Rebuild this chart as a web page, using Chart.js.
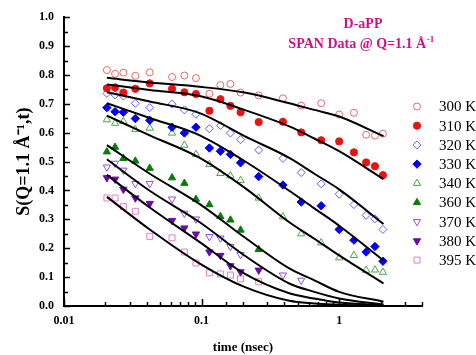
<!DOCTYPE html>
<html><head><meta charset="utf-8">
<script src="https://cdn.jsdelivr.net/npm/chart.js@4"></script>
<style>html,body{margin:0;padding:0;background:#fff;}#wrap{width:476px;height:355px;}</style>
</head><body><div id="wrap"><canvas id="c" width="476" height="355"></canvas></div>
<script>
// ---- data ----
const times = [0.0205, 0.0235, 0.027, 0.033, 0.042, 0.061, 0.075, 0.091, 0.114, 0.137, 0.162, 0.192, 0.26, 0.39, 0.53, 0.74, 1.0, 1.28, 1.57, 1.82, 2.08];
const s300 = [0.817, 0.804, 0.808, 0.797, 0.809, 0.793, 0.798, 0.789, 0.735, 0.765, 0.769, 0.739, 0.729, 0.719, 0.694, 0.702, 0.663, 0.669, 0.593, 0.590, 0.597];
const s310 = [0.754, 0.757, 0.739, 0.752, 0.771, 0.752, 0.740, 0.734, 0.676, 0.716, 0.693, 0.671, 0.637, 0.638, 0.601, 0.574, 0.570, 0.532, 0.497, 0.484, 0.453];
const s320 = [0.736, 0.731, 0.727, 0.702, 0.687, 0.699, 0.679, 0.664, 0.614, 0.625, 0.599, 0.576, 0.540, 0.511, 0.462, 0.423, 0.387, 0.351, 0.314, 0.302, 0.265];
const s330 = [0.687, 0.673, 0.671, 0.649, 0.643, 0.619, 0.599, 0.619, 0.547, 0.536, 0.525, 0.496, 0.448, 0.419, 0.360, 0.347, 0.265, 0.228, 0.187, 0.206, 0.155];
const s340 = [0.645, 0.633, 0.639, 0.611, 0.616, 0.599, 0.557, 0.525, 0.490, 0.459, 0.451, 0.435, 0.374, 0.309, 0.250, 0.219, 0.167, 0.175, 0.124, 0.125, 0.117];
const s360 = [0.534, 0.550, 0.511, 0.502, 0.477, 0.444, 0.425, 0.370, 0.351, 0.310, 0.298, 0.263, 0.196, null, null, null, null, null, null, null, null];
const s370 = [0.481, 0.494, 0.470, 0.424, 0.424, 0.370, 0.321, 0.301, 0.240, 0.235, 0.206, 0.178, null, 0.107, 0.089, null, null, null, null, null, null];
const s380 = [0.444, 0.439, 0.404, 0.374, 0.355, 0.296, 0.270, 0.249, 0.187, 0.175, 0.139, 0.118, 0.124, null, null, null, null, null, null, null, null];
const s395 = [0.374, 0.374, 0.344, 0.328, 0.241, 0.236, 0.187, 0.149, 0.115, 0.111, 0.107, 0.094, 0.084, null, null, null, null, null, null, null, null];

// fitted curves
const fitTimes = [0.0205, 0.042, 0.097, 0.205, 0.434, 0.66, 1.0, 2.1];
const fit300 = [0.790, 0.774, 0.759, 0.739, 0.702, 0.679, 0.656, 0.588];
const fit310 = [0.767, 0.748, 0.727, 0.679, 0.622, 0.580, 0.536, 0.439];
const fit320 = [0.740, 0.708, 0.668, 0.588, 0.513, 0.458, 0.404, 0.284];
const fit330 = [0.702, 0.651, 0.591, 0.502, 0.399, 0.338, 0.278, 0.158];
const fit340 = [0.659, 0.591, 0.513, 0.410, 0.290, 0.233, 0.175, 0.078];
const fit360 = [0.557, 0.458, 0.353, 0.238, 0.130, 0.089, 0.049, 0.015];
const fit370 = [0.508, 0.399, 0.290, 0.175, 0.078, 0.049, 0.026, 0.005];
const fit380 = [0.454, 0.341, 0.221, 0.112, 0.044, 0.026, 0.012, 0.002];
const fit395 = [0.378, 0.265, 0.147, 0.066, 0.018, 0.009, 0.004, 0.001];

const seriesLabels = ['300 K', '310 K', '320 K', '330 K', '340 K', '360 K', '370 K', '380 K', '395 K'];
const yTickValues = [0.0, 0.1, 0.2, 0.3, 0.4, 0.5, 0.6, 0.7, 0.8, 0.9, 1.0];
const xTickLabels = ['0.01', '0.1', '1'];

// ---- styles ----
const FONT = "'Liberation Serif', 'Times New Roman', serif";
const styles = [
  {color: '#e06a6a', style: 'circle',   rot: 0,   r: 3.5, filled: false},
  {color: '#ee1111', style: 'circle',   rot: 0,   r: 3.6, filled: true},
  {color: '#6060f0', style: 'rectRot',  rot: 0,   r: 4.0, filled: false},
  {color: '#0000ff', style: 'rectRot',  rot: 0,   r: 4.2, filled: true},
  {color: '#4ca44c', style: 'triangle', rot: 0,   r: 4.2, filled: false},
  {color: '#0a7a0a', style: 'triangle', rot: 0,   r: 4.2, filled: true},
  {color: '#9050d8', style: 'triangle', rot: 180, r: 4.2, filled: false},
  {color: '#6a0aaa', style: 'triangle', rot: 180, r: 4.2, filled: true},
  {color: '#e080c8', style: 'rect',     rot: 0,   r: 4.2, filled: false}
];
const seriesValues = [s300, s310, s320, s330, s340, s360, s370, s380, s395];
const fitValues = [fit300, fit310, fit320, fit330, fit340, fit360, fit370, fit380, fit395];

const datasets = [];
seriesValues.forEach((vals, k) => {
  const st = styles[k];
  datasets.push({
    label: seriesLabels[k],
    data: times.map((t, i) => ({x: t, y: vals[i]})).filter(p => p.y !== null),
    showLine: false,
    pointStyle: st.style,
    pointRotation: st.rot,
    pointRadius: st.r,
    pointHoverRadius: st.r,
    pointBorderWidth: 1,
    borderColor: st.color,
    backgroundColor: st.filled ? st.color : 'rgba(255,255,255,0)',
    order: 2
  });
});
fitValues.forEach((vals) => {
  datasets.push({
    label: '',
    data: fitTimes.map((t, i) => ({x: t, y: vals[i]})),
    showLine: true,
    borderColor: '#000',
    borderWidth: 2,
    pointRadius: 0,
    cubicInterpolationMode: 'monotone',
    fill: false,
    order: 1
  });
});

function isPow10(v) { const l = Math.log10(v); return Math.abs(l - Math.round(l)) < 1e-6; }
function isTenth(v) { return Math.abs(v * 10 - Math.round(v * 10)) < 1e-6; }

const inwardTicks = {
  id: 'inwardTicks',
  afterDraw(chart) {
    const {ctx, chartArea: a, scales: {x, y}} = chart;
    ctx.save();
    ctx.strokeStyle = '#000';
    ctx.lineWidth = 1.5;
    x.ticks.forEach(t => {
      if (t.value < x.min - 1e-9 || t.value > x.max + 1e-9) return;
      const px = Math.round(x.getPixelForValue(t.value)) + 0.5;
      const len = isPow10(t.value) ? 7 : 4;
      ctx.beginPath(); ctx.moveTo(px, a.bottom); ctx.lineTo(px, a.bottom - len); ctx.stroke();
    });
    y.ticks.forEach(t => {
      const py = Math.round(y.getPixelForValue(t.value)) + 0.5;
      const len = isTenth(t.value) ? 6 : 4;
      ctx.beginPath(); ctx.moveTo(a.left, py); ctx.lineTo(a.left + len, py); ctx.stroke();
    });
    ctx.restore();
  }
};

const sideLegend = {
  id: 'sideLegend',
  afterDraw(chart) {
    const ctx = chart.ctx;
    const items = chart.data.datasets.filter(d => d.label);
    items.forEach((d, i) => {
      const yy = 106.5 + i * 19.2;
      ctx.save();
      ctx.fillStyle = d.backgroundColor;
      ctx.strokeStyle = d.borderColor;
      ctx.lineWidth = d.pointBorderWidth;
      Chart.helpers.drawPoint(ctx, {pointStyle: d.pointStyle, rotation: d.pointRotation, radius: d.pointRadius, borderWidth: d.pointBorderWidth}, 417, yy);
      ctx.fillStyle = '#000';
      ctx.font = '15px ' + FONT;
      ctx.textAlign = 'left';
      ctx.textBaseline = 'middle';
      ctx.fillText(d.label, 439, yy + 1);
      ctx.restore();
    });
  }
};

const titleText = {
  id: 'titleText',
  afterDraw(chart) {
    const ctx = chart.ctx;
    ctx.save();
    ctx.fillStyle = '#cc1188';
    ctx.font = 'bold 14px ' + FONT;
    ctx.textBaseline = 'alphabetic';
    ctx.textAlign = 'center';
    ctx.fillText('D-aPP', 363, 28);
    const main = 'SPAN Data @ Q=1.1 Å';
    const sup = '-1';
    const w1 = ctx.measureText(main).width;
    ctx.font = 'bold 9px ' + FONT;
    const w2 = ctx.measureText(sup).width;
    const start = 361 - (w1 + w2) / 2;
    ctx.textAlign = 'left';
    ctx.font = 'bold 14px ' + FONT;
    ctx.fillText(main, start, 48);
    ctx.font = 'bold 9px ' + FONT;
    ctx.fillText(sup, start + w1 + 0.5, 42);
    ctx.restore();
  }
};

new Chart(document.getElementById('c'), {
  type: 'scatter',
  data: {datasets},
  options: {
    responsive: false,
    animation: false,
    devicePixelRatio: 1,
    layout: {padding: {top: 15, right: 54, left: 0, bottom: 0}},
    plugins: {legend: {display: false}, tooltip: {enabled: false}, title: {display: false}},
    scales: {
      x: {
        type: 'logarithmic',
        min: 0.01, max: 4,
        position: 'bottom',
        grid: {display: false, drawTicks: false},
        border: {display: true, color: '#000', width: 2},
        ticks: {
          autoSkip: false, maxRotation: 0, color: '#000', padding: 8,
          font: {family: FONT, weight: 'bold', size: 12},
          callback: (v) => {
            if (!isPow10(v)) return '';
            const e = Math.round(Math.log10(v));
            const s = e >= 0 ? String(Math.round(v)) : v.toFixed(-e);
            return xTickLabels.includes(s) ? s : '';
          }
        },
        title: {display: true, text: 'time (nsec)', color: '#000', font: {family: FONT, weight: 'bold', size: 13}, padding: {top: 0, bottom: 0}},
        afterFit: (s) => { s.height = 49; }
      },
      y: {
        type: 'linear',
        min: 0, max: 1,
        grid: {display: false, drawTicks: false},
        border: {display: true, color: '#000', width: 2},
        ticks: {
          stepSize: 0.05, autoSkip: false, color: '#000', padding: 10,
          font: {family: FONT, weight: 'bold', size: 12},
          callback: (v) => {
            const hit = yTickValues.find(t => Math.abs(t - v) < 1e-6);
            return hit !== undefined ? hit.toFixed(1) : '';
          }
        },
        title: {display: true, text: 'S(Q=1.1 Å⁻¹,t)', color: '#000', font: {family: FONT, weight: 'bold', size: 18}, padding: {top: 14, bottom: 0}},
        afterFit: (s) => { s.width = 64; }
      }
    }
  },
  plugins: [inwardTicks, sideLegend, titleText]
});
</script>
</body></html>
